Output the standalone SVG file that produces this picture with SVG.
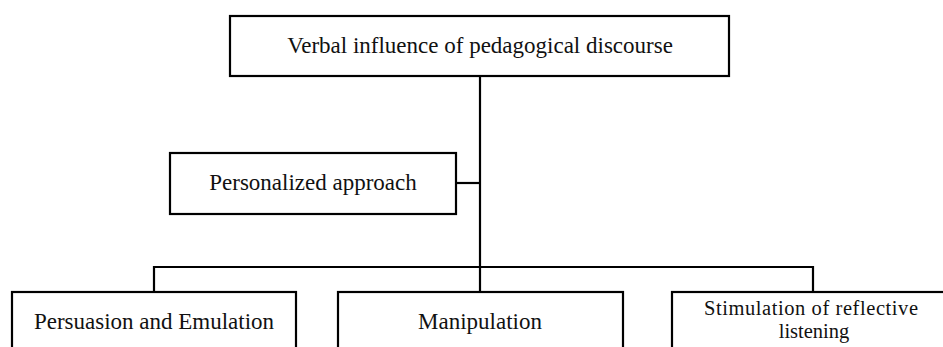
<svg xmlns="http://www.w3.org/2000/svg" width="943" height="347" viewBox="0 0 943 347">
<style>
  .box { fill: #ffffff; stroke: #000000; stroke-width: 2.2; }
  .link { fill: none; stroke: #000000; stroke-width: 2.2; }
  .lbl { font-family: "Liberation Serif", "Times New Roman", serif; font-size: 23px; fill: #111111; text-anchor: middle; }
  .lbl2 { font-size: 20.5px; }
</style>
<rect width="943" height="347" fill="#ffffff"/>
<g id="connectors">
  <path class="link" d="M480,76 V292"/>
  <path class="link" d="M456,183 H480"/>
  <path class="link" d="M154,292 V267 H813 V292"/>
</g>
<g id="node-root">
  <rect class="box" x="230" y="16" width="499" height="60"/>
  <text class="lbl" x="480" y="53">Verbal influence of pedagogical discourse</text>
</g>
<g id="node-personalized">
  <rect class="box" x="170" y="153" width="286" height="61"/>
  <text class="lbl" x="313" y="190">Personalized approach</text>
</g>
<g id="node-persuasion">
  <rect class="box" x="12" y="292" width="284" height="70"/>
  <text class="lbl" x="154" y="329">Persuasion and Emulation</text>
</g>
<g id="node-manipulation">
  <rect class="box" x="338" y="292" width="285" height="70"/>
  <text class="lbl" x="480" y="329">Manipulation</text>
</g>
<g id="node-stimulation">
  <rect class="box" x="672" y="292" width="282" height="70"/>
  <text class="lbl lbl2" x="811" y="315" textLength="214" lengthAdjust="spacing">Stimulation of reflective</text>
  <text class="lbl lbl2" x="814" y="338">listening</text>
</g>
</svg>
